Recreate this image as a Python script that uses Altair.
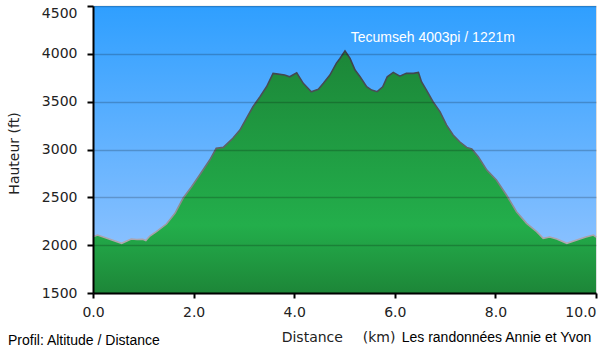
import altair as alt
import pandas as pd

# ---- data ----
dist_km = [0.00, 0.09, 0.57, 0.76, 0.87, 0.99, 1.05, 1.13, 1.26, 1.46, 1.63, 1.79,
           1.96, 2.12, 2.32, 2.45, 2.59, 2.78, 2.92, 3.05, 3.18, 3.32, 3.45, 3.58,
           3.68, 3.81, 3.91, 4.05, 4.18, 4.34, 4.48, 4.58, 4.71, 4.84, 4.91, 5.01,
           5.11, 5.21, 5.31, 5.44, 5.54, 5.65, 5.76, 5.85, 5.97, 6.10, 6.23, 6.37,
           6.47, 6.53, 6.63, 6.76, 6.90, 7.03, 7.16, 7.29, 7.43, 7.53, 7.66, 7.83,
           8.02, 8.22, 8.42, 8.62, 8.82, 8.95, 9.08, 9.22, 9.42, 9.62, 9.80, 9.95,
           10.00]
alt_ft = [2088, 2106, 2019, 2064, 2059, 2061, 2049, 2095, 2141, 2221, 2333, 2490,
          2611, 2733, 2890, 3012, 3022, 3117, 3203, 3325, 3447, 3551, 3656, 3796,
          3788, 3778, 3760, 3802, 3692, 3604, 3629, 3692, 3778, 3903, 3952, 4030,
          3952, 3830, 3760, 3656, 3621, 3604, 3656, 3760, 3806, 3767, 3796, 3796,
          3806, 3708, 3621, 3499, 3394, 3255, 3151, 3081, 3022, 3005, 2924, 2785,
          2681, 2524, 2350, 2228, 2141, 2072, 2085, 2064, 2019, 2054, 2085, 2106,
          2085]
x_ticks = [0, 2, 4, 6, 8, 10]
y_ticks = [1500, 2000, 2500, 3000, 3500, 4000, 4500]

peak_label = "Tecumseh 4003pi / 1221m"
footer_left = "Profil: Altitude / Distance"
footer_right = "Les randonnées Annie et Yvon"
x_title_a = "Distance"
x_title_b = "(km)"
y_title = "Hauteur (ft)"

W, H = 503, 287

df = pd.DataFrame({"d": dist_km, "h": alt_ft})
one = pd.DataFrame({"k": [0]})

xs = alt.Scale(domain=[0, 10], nice=False, zero=False)
ys = alt.Scale(domain=[1500, 4500], nice=False, zero=False)

bg = alt.Chart(one).mark_rect(
    fill={"gradient": "linear", "x1": 0, "y1": 0, "x2": 0, "y2": 1,
          "stops": [{"offset": 0, "color": "#2f9fff"},
                    {"offset": 1, "color": "#9ac7ff"}]}
).encode(x=alt.value(0), x2=alt.value(W), y=alt.value(0), y2=alt.value(H))

area = alt.Chart(df).mark_area(
    fill={"gradient": "linear", "x1": 0, "y1": 0, "x2": 0, "y2": 1,
          "stops": [{"offset": 0, "color": "#1c8638"},
                    {"offset": 0.72, "color": "#23ae4b"},
                    {"offset": 1, "color": "#1d8638"}]}
).encode(
    x=alt.X("d:Q", scale=xs,
            axis=alt.Axis(values=x_ticks, format=".1f", title=None, grid=False,
                          labelFont="DejaVu Sans", labelFontSize=14, labelColor="#222",
                          labelPadding=7, tickSize=5, tickWidth=2, tickColor="black",
                          domainColor="black", domainWidth=2,
                          labelAlign={"condition": {"test": "datum.value == 10", "value": "right"},
                                      "value": "center"},
                          zindex=1)),
    y=alt.Y("h:Q", scale=ys,
            axis=alt.Axis(values=y_ticks, format="d", title=None, grid=True, gridColor="black",
                          gridOpacity=0.2, gridWidth=1.5,
                          labelFont="DejaVu Sans", labelFontSize=14, labelColor="#222",
                          labelPadding=10, tickSize=6, tickWidth=2, tickColor="black",
                          domainColor="black", domainWidth=2,
                          labelBaseline={"condition": {"test": "datum.value == 4500", "value": "top"},
                                         "value": "middle"},
                          zindex=1)),
    y2=alt.datum(1500),
)

line = alt.Chart(df).mark_line(
    strokeWidth=1.6,
    stroke={"gradient": "linear", "x1": 0, "y1": 0, "x2": 0, "y2": 1,
            "stops": [{"offset": 0, "color": "#3a3f48"},
                      {"offset": 0.5, "color": "#5e6266"},
                      {"offset": 1, "color": "#b0a8b0"}]}
).encode(x=alt.X("d:Q", scale=xs), y=alt.Y("h:Q", scale=ys))


def txt(s, x, y, font="Liberation Sans", size=14, color="black", angle=None, align="left"):
    kw = dict(text=s, font=font, fontSize=size, color=color, align=align, baseline="middle")
    if angle is not None:
        kw["angle"] = angle
    return alt.Chart(one).mark_text(**kw).encode(x=alt.value(x), y=alt.value(y))


texts = [
    txt(peak_label, 257.7, 32, color="white"),
    txt(footer_left, -85, 335),
    txt(footer_right, 308.7, 332),
    txt(x_title_a, 188.7, 332, font="DejaVu Sans", color="#222"),
    txt(x_title_b, 269.7, 332, font="DejaVu Sans", color="#222"),
    txt(y_title, -78, 147.5, font="DejaVu Sans", color="#222", angle=270, align="center"),
]

chart = alt.layer(bg, area, line, *texts).properties(
    width=W, height=H,
    autosize=alt.AutoSizeParams(type="none"),
    padding={"left": 93, "top": 6, "right": 4, "bottom": 61},
).configure_view(stroke=None).configure(background="white")

chart.save("out.html", embed_options={"renderer": "svg", "actions": False})
